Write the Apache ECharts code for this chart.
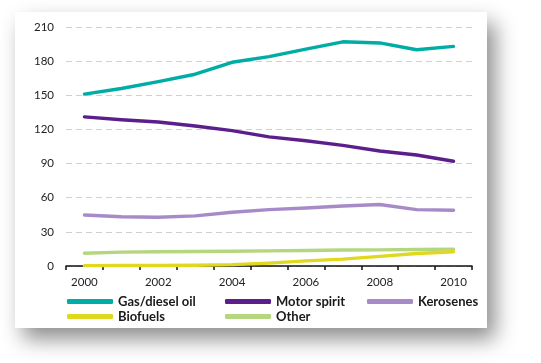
<!DOCTYPE html>
<html><head><meta charset="utf-8">
<script src="https://cdn.jsdelivr.net/npm/echarts@6/dist/echarts.min.js"></script>
<style>html,body{margin:0;padding:0;background:#fff}#c{width:541px;height:363px}</style>
</head><body><div id="c"></div>
<script>
var years = ['2000','2001','2002','2003','2004','2005','2006','2007','2008','2009','2010'];
var gasDiesel = [151, 156, 162, 168.5, 179, 184, 190.5, 197, 196, 190, 193];
var motorSpirit = [131, 128.5, 126.5, 123, 119, 113.5, 110, 106, 101, 97.5, 92];
var kerosenes = [44.8, 43.3, 42.8, 44, 47.2, 49.5, 51, 52.7, 54, 49.5, 49];
var biofuels = [0.3, 0.4, 0.5, 0.7, 1.2, 2.5, 4.5, 6, 8.5, 11, 12.5];
var other = [11.2, 12.2, 12.5, 12.8, 13, 13.3, 13.6, 14, 14.2, 14.5, 14.8];
var seriesNames = ['Gas/diesel oil','Motor spirit','Kerosenes','Biofuels','Other'];
var colors = ['#00ADA6','#5B1E8A','#A78BC8','#E0D81C','#B4D67E'];
var yTicks = {min: 0, max: 210, interval: 30};

var chart = echarts.init(document.getElementById('c'), null, {renderer:'canvas'});
var font = 'Lato, "Noto Sans", sans-serif';
var dataList = [gasDiesel, motorSpirit, kerosenes, biofuels, other];
var legendPos = [[67,295],[225,295],[367,295],[67,310],[225,310]];
var legends = seriesNames.map(function(n,i){
  return {
    data:[n], left: legendPos[i][0], top: legendPos[i][1],
    itemWidth: 46, itemHeight: 5, itemGap: 5, padding: 0,
    icon: 'roundRect',
    textStyle:{fontFamily:font, fontWeight:'bold', fontSize:13, color:'#1a1a1a', padding:[0,0,0,0]}
  };
});
chart.setOption({
  animation:false,
  color: colors,
  graphic:[{
    type:'rect', z:-10, shape:{x:15,y:12,width:472,height:316},
    style:{fill:'#fff', shadowBlur:20, shadowOffsetX:8, shadowOffsetY:11, shadowColor:'rgba(0,0,0,0.45)'}
  }],
  legend: legends,
  grid:{left:66, right:69, top:27, bottom:97},
  xAxis:{
    type:'category', data: years, boundaryGap:true,
    axisLine:{lineStyle:{color:'#111', width:1.5}},
    axisTick:{show:true, length:4, lineStyle:{color:'#111', width:1.5}},
    axisLabel:{fontFamily:font, fontSize:11.5, color:'#222', margin:10,
      interval:0,
      formatter:function(v,i){ return i%2===0 ? v : ''; }}
  },
  yAxis:{
    type:'value', min:yTicks.min, max:yTicks.max, interval:yTicks.interval,
    axisLine:{show:false}, axisTick:{show:false},
    axisLabel:{fontFamily:font, fontSize:11.5, color:'#222', margin:12},
    splitLine:{lineStyle:{color:'#d0d0d0', type:[6,4], width:1}}
  },
  series: dataList.map(function(d,i){
    return {name: seriesNames[i], type:'line', data:d, symbol:'none',
      lineStyle:{width:3.4, color:colors[i], cap:'round', join:'round'}, z: 10-i};
  })
});
</script></body></html>
